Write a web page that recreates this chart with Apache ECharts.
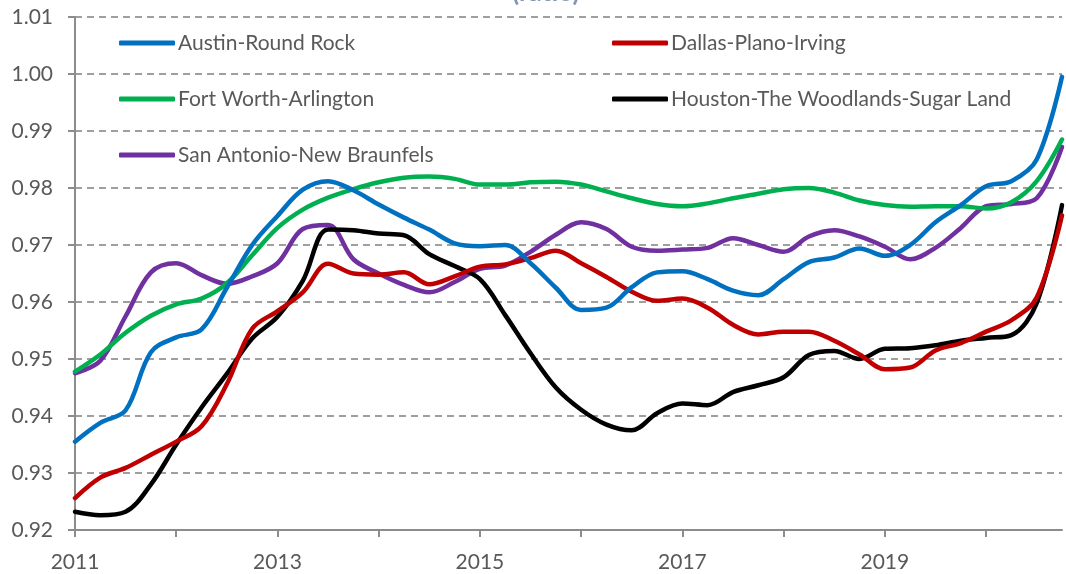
<!DOCTYPE html>
<html>
<head>
<meta charset="utf-8">
<script src="https://cdn.jsdelivr.net/npm/echarts@6/dist/echarts.min.js"></script>
<style>
  html, body { margin: 0; padding: 0; background: #ffffff; }
  #chart { width: 1066px; height: 574px; }
</style>
</head>
<body>
<div id="chart"></div>
<script>
// Months since January 2011, sampled quarterly
const months = [0, 3, 6, 9, 12, 15, 18, 21, 24, 27, 30, 33, 36, 39, 42, 45, 48, 51, 54, 57,
                60, 63, 66, 69, 72, 75, 78, 81, 84, 87, 90, 93, 96, 99, 102, 105, 108, 111, 114, 117];

const austin = [0.9355, 0.9388, 0.9410, 0.9512, 0.9538, 0.9552, 0.9625, 0.9700, 0.9751, 0.9797,
                0.9812, 0.9796, 0.9771, 0.9748, 0.9727, 0.9703, 0.9698, 0.9700, 0.9668, 0.9625,
                0.9586, 0.9590, 0.9626, 0.9652, 0.9654, 0.9640, 0.9620, 0.9612, 0.9640, 0.9670,
                0.9678, 0.9694, 0.9681, 0.9700, 0.9740, 0.9770, 0.9803, 0.9812, 0.9850, 0.9995];

const dallas = [0.9256, 0.9292, 0.9309, 0.9332, 0.9355, 0.9382, 0.9456, 0.9553, 0.9584, 0.9617,
                0.9667, 0.9650, 0.9648, 0.9652, 0.9631, 0.9645, 0.9662, 0.9666, 0.9677, 0.9690,
                0.9668, 0.9644, 0.9618, 0.9602, 0.9606, 0.9590, 0.9560, 0.9543, 0.9548, 0.9548,
                0.9532, 0.9508, 0.9482, 0.9485, 0.9515, 0.9528, 0.9548, 0.9568, 0.9608, 0.9752];

const fortWorth = [0.9478, 0.9508, 0.9546, 0.9576, 0.9596, 0.9606, 0.9633, 0.9682, 0.9730, 0.9762,
                   0.9783, 0.9798, 0.9810, 0.9818, 0.9820, 0.9816, 0.9806, 0.9806, 0.9810, 0.9811,
                   0.9806, 0.9794, 0.9782, 0.9772, 0.9768, 0.9773, 0.9782, 0.9790, 0.9798, 0.9800,
                   0.9792, 0.9778, 0.9770, 0.9767, 0.9768, 0.9768, 0.9764, 0.9775, 0.9812, 0.9885];

const houston = [0.9232, 0.9226, 0.9232, 0.9280, 0.9350, 0.9415, 0.9474, 0.9536, 0.9574, 0.9637,
                 0.9727, 0.9726, 0.9720, 0.9717, 0.9684, 0.9663, 0.9640, 0.9577, 0.9510, 0.9450,
                 0.9411, 0.9385, 0.9375, 0.9405, 0.9422, 0.9419, 0.9442, 0.9454, 0.9468, 0.9507,
                 0.9514, 0.9500, 0.9518, 0.9519, 0.9524, 0.9532, 0.9537, 0.9542, 0.9598, 0.9770];

const sanAntonio = [0.9475, 0.9497, 0.9575, 0.9652, 0.9668, 0.9647, 0.9632, 0.9645, 0.9668, 0.9728,
                    0.9735, 0.9675, 0.9650, 0.9630, 0.9617, 0.9635, 0.9658, 0.9664, 0.9688, 0.9718,
                    0.9740, 0.9728, 0.9697, 0.9690, 0.9692, 0.9695, 0.9712, 0.9700, 0.9688, 0.9715,
                    0.9726, 0.9715, 0.9697, 0.9675, 0.9695, 0.9730, 0.9768, 0.9772, 0.9782, 0.9872];

const seriesNames = ['Austin-Round Rock', 'Dallas-Plano-Irving', 'Fort Worth-Arlington',
                     'Houston-The Woodlands-Sugar Land', 'San Antonio-New Braunfels'];
const seriesValues = [austin, dallas, fortWorth, houston, sanAntonio];
const seriesColors = ['#0070C0', '#C00000', '#00B050', '#000000', '#7030A0'];

const yearTicks = [0, 12, 24, 36, 48, 60, 72, 84, 96, 108];
const yearLabels = [0, 24, 48, 72, 96];
const baseYear = 2011;

const FONT = 'Lato';
const TEXT_COLOR = '#595959';
const AXIS_COLOR = '#8C8C8C';

const chart = echarts.init(document.getElementById('chart'), null, { renderer: 'canvas' });

const legendCommon = {
  orient: 'vertical',
  icon: 'roundRect',
  padding: 0,
  itemWidth: 56,
  itemHeight: 5,
  itemGap: 34,
  textStyle: { fontFamily: FONT, fontSize: 21, lineHeight: 22, color: TEXT_COLOR, padding: [0, 0, 0, -2] }
};

chart.setOption({
  animation: false,
  backgroundColor: '#ffffff',
  textStyle: { fontFamily: FONT },
  graphic: [{
    type: 'text',
    left: 512,
    top: -20,
    style: { text: '(ratio)', font: 'bold 26px ' + FONT, fill: '#8497B0' }
  }],
  legend: [
    Object.assign({}, legendCommon, {
      left: 119, top: 32,
      data: [seriesNames[0], seriesNames[2], seriesNames[4]]
    }),
    Object.assign({}, legendCommon, {
      left: 612, top: 32,
      data: [seriesNames[1], seriesNames[3]]
    })
  ],
  grid: { left: 75, right: 4, top: 17, bottom: 44, containLabel: false },
  xAxis: {
    type: 'value',
    min: 0,
    max: 117,
    interval: 12,
    axisLine: { show: true, onZero: false, lineStyle: { color: AXIS_COLOR, width: 2 } },
    axisTick: { show: true, length: 7, customValues: yearTicks, lineStyle: { color: AXIS_COLOR, width: 2 } },
    axisLabel: {
      customValues: yearLabels,
      formatter: v => String(baseYear + v / 12),
      margin: 22,
      fontFamily: FONT, fontSize: 21, color: TEXT_COLOR
    },
    splitLine: { show: false }
  },
  yAxis: {
    type: 'value',
    min: 0.92,
    max: 1.01,
    interval: 0.01,
    axisLine: { show: true, lineStyle: { color: AXIS_COLOR, width: 2 } },
    axisTick: { show: true, length: 7, lineStyle: { color: AXIS_COLOR, width: 2 } },
    axisLabel: {
      formatter: v => v.toFixed(2),
      margin: 22,
      fontFamily: FONT, fontSize: 21, color: TEXT_COLOR
    },
    splitLine: { show: true, lineStyle: { color: '#808080', width: 1.5, type: [7, 5] } }
  },
  series: seriesNames.map((name, i) => ({
    name: name,
    type: 'line',
    data: months.map((m, j) => [m, seriesValues[i][j]]),
    smooth: 0.35,
    showSymbol: false,
    symbol: 'none',
    z: 10 - i,
    lineStyle: { color: seriesColors[i], width: 4.5, cap: 'round', join: 'round' },
    itemStyle: { color: seriesColors[i] }
  }))
});
</script>
</body>
</html>
